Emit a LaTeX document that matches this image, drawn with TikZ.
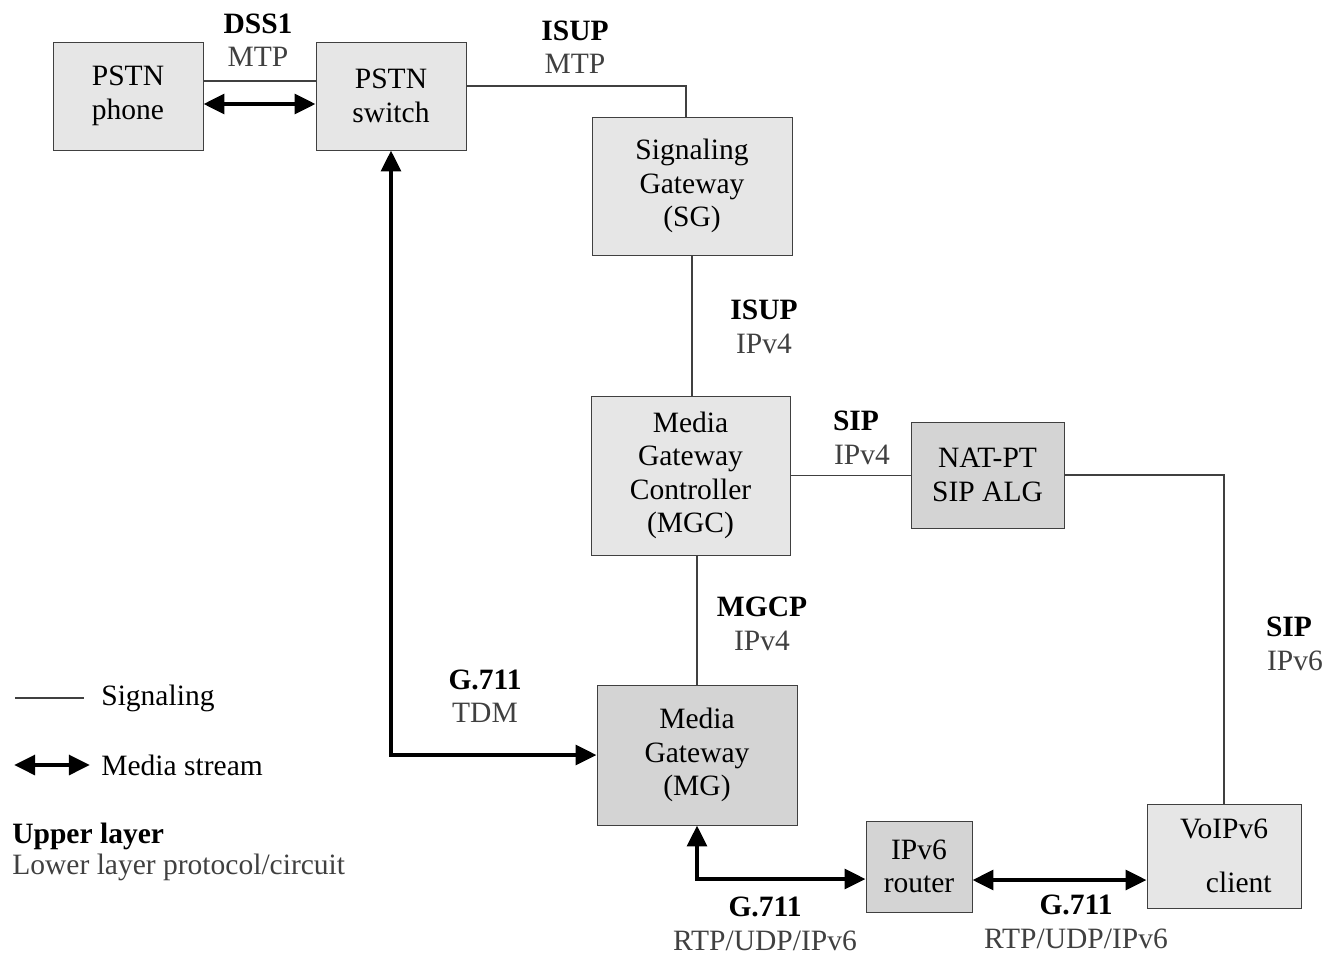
\documentclass[tikz,border=0pt]{standalone}
\usepackage{fontspec}
\setmainfont{Liberation Serif}
\usepackage{tikz}
\usetikzlibrary{arrows.meta}
\definecolor{boxlight}{HTML}{E6E6E6}
\definecolor{boxdark}{HTML}{D4D4D4}
\definecolor{lowgray}{HTML}{404040}
\newcommand{\proto}[2]{\textbf{#1}\\{\color{lowgray}#2}}

\begin{document}
\begin{tikzpicture}[
	x=0.02cm, y=-0.02cm,
	every node/.style={font=\fontsize{16.8}{19}\selectfont},
	unit/.style={
		rectangle,
		draw=lowgray,
		thin,
		align=center,
		inner sep=0pt,
		fill=boxlight
		},
	gw/.style={
		fill=boxdark
	},
	label/.style={
		align=center,
		inner sep=0pt
	},
	sig/.style={
		draw=lowgray,
		line width=0.6pt
	},
	media/.style={
		draw=black,
		line width=2.8pt,
		{Triangle[length=12pt,width=11pt]}-{Triangle[length=12pt,width=11pt]}
	}
]
\useasboundingbox (0,0) rectangle (1327,957);

% Units
\node [unit, minimum width=3cm, minimum height=2.16cm] (phone) at (128,96) {PSTN\\phone};
\node [unit, minimum width=3cm, minimum height=2.16cm] (sw) at (391,96) {PSTN\\switch};
\node [unit, minimum width=4cm, minimum height=2.76cm] (sg) at (692,186) {Signaling\\Gateway\\(SG)};
\node [unit, minimum width=3.98cm, minimum height=3.18cm] (mgc) at (690.5,475.5) {Media\\Gateway\\Controller\\(MGC)};
\node [unit, gw, minimum width=3.06cm, minimum height=2.12cm] (nat) at (987.5,475) {NAT-PT\\SIP ALG};
\node [unit, gw, minimum width=4cm, minimum height=2.8cm] (mg) at (697,755) {Media\\Gateway\\(MG)};
\node [unit, gw, minimum width=2.12cm, minimum height=1.82cm] (rt) at (919,866.5) {IPv6\\router};
\node [unit, minimum width=3.08cm, minimum height=2.08cm] (cl) at (1224,856) {VoIPv6\\[12pt]\quad client};

% Signaling
\draw [sig] ([yshift=0.3cm]phone.east) -- ([yshift=0.3cm]phone.east -| sw.west);
\draw [sig] ([yshift=0.2cm]sw.east) -| ([xshift=-0.12cm]sg.north);
\draw [sig] (sg.south) -- (sg.south |- mgc.north);
\draw [sig] (mgc.east) -- (mgc.east -| nat.west);
\draw [sig] (nat.east) -| (cl.north);
\draw [sig] (mg.north) -- (mg.north |- mgc.south);

% Media streams
\draw [media] ([yshift=-0.16cm]phone.east) -- ([yshift=-0.16cm]phone.east -| sw.west);
\draw [media] (sw.south) |- (mg.west);
\draw [media] (mg.south) |- ([yshift=-0.25cm]rt.west);
\draw [media] ([yshift=-0.27cm]rt.east) coordinate (m1) -- (m1 -| cl.west);

% Protocols
\node [label] (p1) at (258,40) {\proto{DSS1}{MTP}};
\node [label] (p2) at (575,47) {\proto{ISUP}{MTP}};
\node [label] (p3) at (764,327) {\proto{ISUP}{IPv4}};
\node [label] (p4) at (856,438) {\proto{SIP}{\hspace{0.4em}IPv4}};
\node [label] (p5) at (762,624) {\proto{MGCP}{IPv4}};
\node [label] (p6) at (1289,644) {\proto{SIP}{\hspace{0.4em}IPv6}};
\node [label] (p7) at (485,696) {\proto{G.711}{TDM}};
\node [label] (p8) at (765,924) {\proto{G.711}{RTP/UDP/IPv6}};
\node [label] (p9) at (1076,922) {\proto{G.711}{RTP/UDP/IPv6}};

% Legend
\coordinate (sigA) at (15,698);
\coordinate (sigB) at (84,698);
\draw [sig] (sigA) -- (sigB);
\node [anchor=west, inner sep=0pt] (sigtxt) at (101,698) {Signaling};
\coordinate (medA) at (14,765);
\coordinate (medB) at (90,765);
\draw [media] (medA) -- (medB);
\node [anchor=west, inner sep=0pt] (medtxt) at (101,765) {Media stream};
\node [anchor=west, inner sep=0pt] (uptxt) at (12,836) {\textbf{Upper layer}};
\node [anchor=west, inner sep=0pt, text=lowgray] (lowtxt) at (12,867) {Lower layer protocol/circuit};
\end{tikzpicture}
\end{document}
